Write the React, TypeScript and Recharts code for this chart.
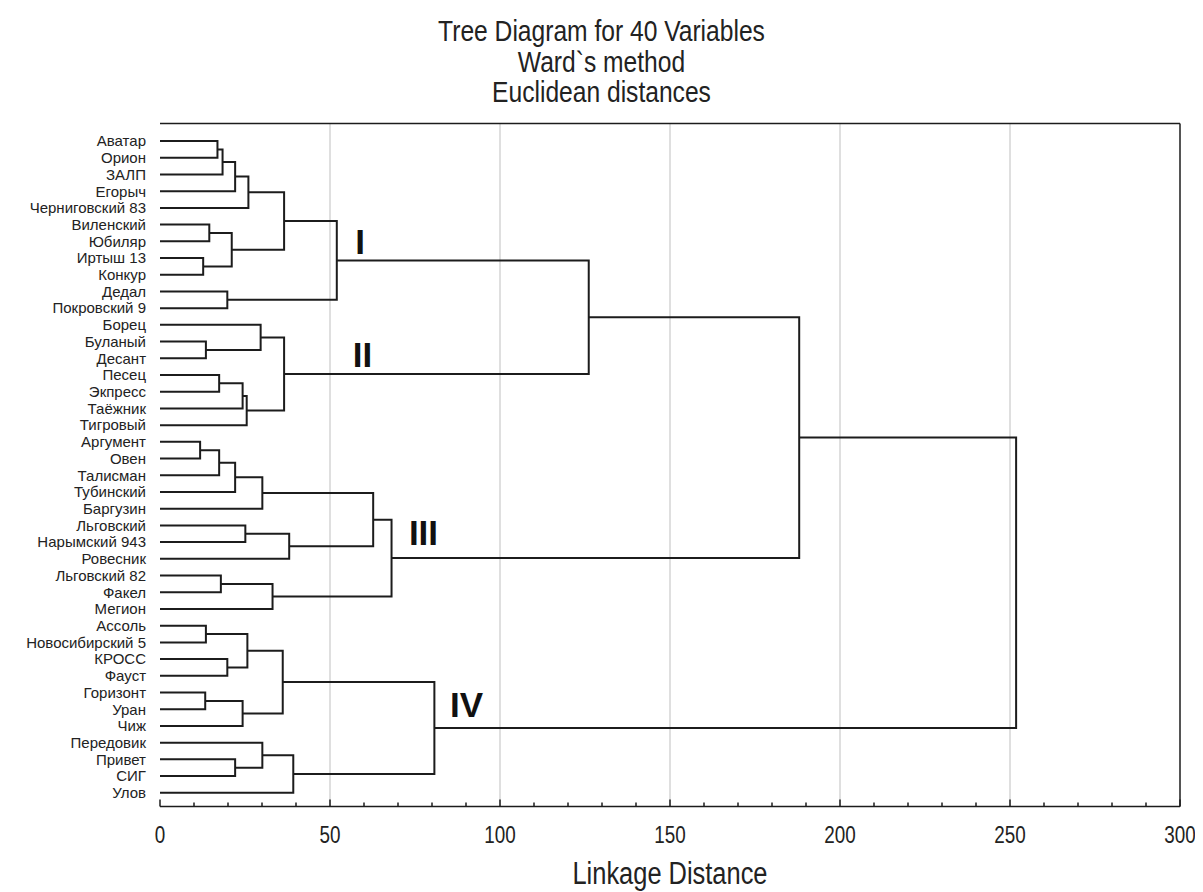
import React from "react"
import { ScatterChart, Scatter, XAxis, YAxis, ReferenceLine } from "recharts"

// сорта в порядке следования по оси, сверху вниз
const varieties = [
  "Аватар", "Орион", "ЗАЛП", "Егорыч", "Черниговский 83",
  "Виленский", "Юбиляр", "Иртыш 13", "Конкур", "Дедал", "Покровский 9",
  "Борец", "Буланый", "Десант", "Песец", "Экпресс", "Таёжник", "Тигровый",
  "Аргумент", "Овен", "Талисман", "Тубинский", "Баргузин", "Льговский",
  "Нарымский 943", "Ровесник", "Льговский 82", "Факел", "Мегион",
  "Ассоль", "Новосибирский 5", "КРОСС", "Фауст", "Горизонт", "Уран", "Чиж",
  "Передовик", "Привет", "СИГ", "Улов",
]

// объединения: [узел, узел, расстояние]; листья 0..39, объединение k -> узел 40+k
const merges: [number, number, number][] = [
  [0, 1, 16.9], [40, 2, 18.4], [41, 3, 22.1], [42, 4, 26.0],
  [5, 6, 14.5], [7, 8, 12.7], [44, 45, 21.1], [43, 46, 36.5],
  [9, 10, 19.8], [47, 48, 52.0],
  [12, 13, 13.5], [11, 50, 29.6], [14, 15, 17.4], [52, 16, 24.3],
  [53, 17, 25.5], [51, 54, 36.5], [49, 55, 126.1],
  [18, 19, 11.8], [57, 20, 17.4], [58, 21, 22.1], [59, 22, 30.1],
  [23, 24, 25.1], [61, 25, 38.0], [60, 62, 62.7], [26, 27, 17.9],
  [64, 28, 33.1], [63, 65, 68.1], [56, 66, 188.0],
  [29, 30, 13.5], [31, 32, 19.8], [68, 69, 25.7], [33, 34, 13.3],
  [71, 35, 24.3], [70, 72, 36.1], [37, 38, 22.1], [36, 74, 30.1],
  [75, 39, 39.2], [73, 76, 80.7], [67, 77, 251.8],
]

const xTicks = [0, 10, 20, 30, 40, 50, 60, 70, 80, 90, 100, 110, 120, 130, 140, 150,
  160, 170, 180, 190, 200, 210, 220, 230, 240, 250, 260, 270, 280, 290, 300]
const gridValues = [50, 100, 150, 200, 250]
const clusterTags = ["I", "II", "III", "IV"]

const sans = "'Liberation Sans', Arial, sans-serif"
const squeeze = 0.82 // узкий шрифт как в Statistica
const ink = "#1c1c1c"

// координаты листьев и узлов, скобки дендрограммы
const leafPos = varieties.map((_, i) => i + 1)
const nodeY: number[] = [...leafPos]
const nodeH: number[] = varieties.map(() => 0)
const brackets = merges.map(([a, b, h]) => {
  const pts = [
    { x: nodeH[a], y: nodeY[a] },
    { x: h, y: nodeY[a] },
    { x: h, y: nodeY[b] },
    { x: nodeH[b], y: nodeY[b] },
  ]
  nodeY.push((nodeY[a] + nodeY[b]) / 2)
  nodeH.push(h)
  return pts
})

// где стоят римские метки кластеров
const tagAnchors = [
  { x: 57.4, y: 7.75 },
  { x: 56.7, y: 14.5 },
  { x: 73.2, y: 25.2 },
  { x: 85.3, y: 35.45 },
]
const tagData = clusterTags.map((t, i) => ({ ...tagAnchors[i], tag: t }))

const BottomTick = (props: any) => {
  const { x, y, payload } = props
  const major = payload.value % 50 === 0
  return (
    <g>
      <line x1={x} y1={y} x2={x} y2={y - (major ? 7 : 4)} stroke={ink} strokeWidth={1.5} />
      {major && (
        <text
          transform={`translate(${x}, ${y + 36.5}) scale(${squeeze}, 1)`}
          textAnchor="middle" fontSize={23} fontFamily={sans} fill="#222"
        >
          {payload.value}
        </text>
      )}
    </g>
  )
}

const TopTick = (props: any) => {
  const { x, y, payload } = props
  const major = payload.value % 50 === 0
  return <line x1={x} y1={y} x2={x} y2={y + (major ? 7 : 4)} stroke={ink} strokeWidth={1.5} />
}

const RightTick = (props: any) => {
  const { x, y } = props
  return <line x1={x - 6} y1={y} x2={x} y2={y} stroke={ink} strokeWidth={1.5} />
}

const TagShape = (props: any) => (
  <text x={props.cx} y={props.cy} fontSize={35} fontWeight="bold" fontFamily={sans} fill="#111">
    {props.payload.tag}
  </text>
)

const titleLines = ["Tree Diagram for 40 Variables", "Ward`s method", "Euclidean distances"]

export default function App() {
  return (
    <div style={{ position: "relative", width: 1187, height: 884, background: "#fff" }}>
      {titleLines.map((t, i) => (
        <div
          key={t}
          style={{
            position: "absolute", left: 0, width: 1187, top: 8 + i * 30.5,
            textAlign: "center", fontFamily: sans, fontSize: 30, lineHeight: "30px", color: "#222",
            transform: `scaleX(${squeeze})`,
          }}
        >
          {t}
        </div>
      ))}
      <ScatterChart width={1187} height={876} margin={{ top: 105.5, right: 14, bottom: 7.5, left: 0 }}>
        <XAxis
          xAxisId="b" dataKey="x" type="number" domain={[0, 300]} ticks={xTicks} interval={0}
          height={70} tickSize={0} tickMargin={0} tickLine={false}
          axisLine={{ stroke: ink, strokeWidth: 1.5 }} tick={<BottomTick />}
        />
        <XAxis
          xAxisId="t" orientation="top" dataKey="x" type="number" domain={[0, 300]} ticks={xTicks}
          interval={0} height={10} tickSize={0} tickMargin={0} tickLine={false}
          axisLine={{ stroke: ink, strokeWidth: 1.5 }} tick={<TopTick />}
        />
        <YAxis
          yAxisId="l" dataKey="y" type="number" domain={[-0.05, 40.82]} reversed ticks={leafPos}
          interval={0} width={152} tickSize={0} tickMargin={14} tickLine={false} axisLine={false}
          tickFormatter={(v: number) => varieties[v - 1]}
          tick={{ fontSize: 15, fontFamily: sans, fill: "#222" }}
        />
        <YAxis
          yAxisId="r" orientation="right" dataKey="y" type="number" domain={[-0.05, 40.82]} reversed
          ticks={leafPos} interval={0} width={1} tickSize={0} tickMargin={0} tickLine={false}
          axisLine={{ stroke: ink, strokeWidth: 1.5 }} tick={<RightTick />}
        />
        {gridValues.map((g) => (
          <ReferenceLine key={g} x={g} xAxisId="b" yAxisId="l" stroke="#d4d4d4" strokeWidth={1.5} />
        ))}
        {brackets.map((pts, i) => (
          <Scatter
            key={i} data={pts} xAxisId="b" yAxisId="l" isAnimationActive={false}
            line={{ stroke: ink, strokeWidth: 2, fill: "none" }} shape={() => <g />}
            legendType="none"
          />
        ))}
        <Scatter
          data={tagData} xAxisId="b" yAxisId="l" isAnimationActive={false}
          shape={(p: any) => <TagShape {...p} />} legendType="none"
        />
      </ScatterChart>
      <div
        style={{
          position: "absolute", left: 152, width: 1020, top: 850, textAlign: "center",
          fontFamily: sans, fontSize: 31, lineHeight: "31px", color: "#222",
          transform: `scaleX(${squeeze})`,
        }}
      >
        Linkage Distance
      </div>
    </div>
  )
}
